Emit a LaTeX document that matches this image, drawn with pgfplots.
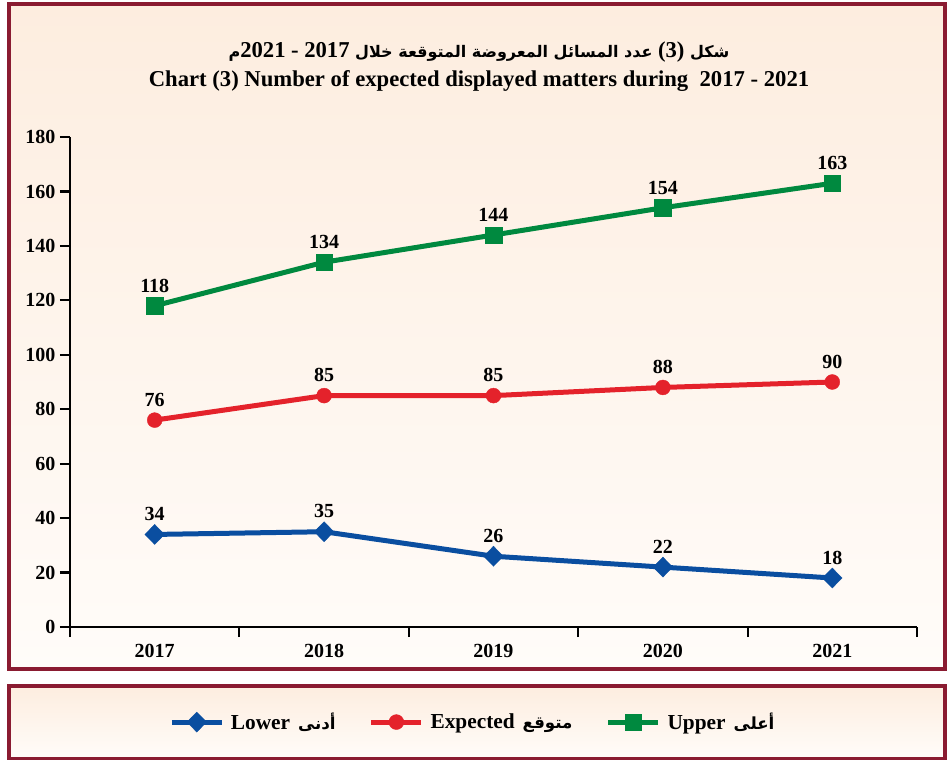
\documentclass[border=0pt]{standalone}
\usepackage{pgfplots}
\pgfplotsset{compat=1.18}
\usepackage{fontspec}
\setmainfont{Liberation Serif}
\newfontfamily\arabicfont[Script=Arabic]{DejaVu Sans}
\TeXXeTstate=1
\definecolor{cgreen}{HTML}{00893F}
\definecolor{cred}{HTML}{E4222B}
\definecolor{cblue}{HTML}{0A4EA0}
\definecolor{cframe}{HTML}{8A1B31}
\definecolor{cpeach}{HTML}{FDEDDF}
\definecolor{cpale}{HTML}{FFFCF9}
\newcommand{\lbl}{\bfseries\fontsize{15}{17}\selectfont}
\newcommand{\ttl}{\normalfont\bfseries\fontsize{17}{19}\selectfont}
\newcommand{\arl}{\arabicfont\bfseries\fontsize{12.5}{15}\selectfont}

\begin{document}
\begin{tikzpicture}
\begin{scope}[x=0.75pt,y=0.75pt]
\useasboundingbox (0,0) rectangle (947,-760);
% chart frame
\shade[top color=cpeach,bottom color=cpale] (9,-3.5) rectangle (944.5,-669);
\draw[cframe,line width=3pt] (9,-3.5) rectangle (944.5,-669);
% legend frame
\shade[top color=cpeach,bottom color=cpale] (9,-685.5) rectangle (944.5,-758.5);
\draw[cframe,line width=3pt] (9,-685.5) rectangle (944.5,-758.5);
% titles
\node[font=\arabicfont\bfseries\fontsize{12}{14}\selectfont] at (479,-52)
  {\beginR شكل \beginL{\ttl(3)}\endL{} عدد المسائل المعروضة المتوقعة خلال {\ttl 2017} {\ttl -} {\ttl 2021}م\endR};
\node[font=\ttl] at (479,-81) {Chart (3) Number of expected displayed matters during\ \ 2017 - 2021};
\end{scope}

\begin{axis}[
  at={(52.5pt,-470.25pt)}, anchor=south west,
  scale only axis, width=635.25pt, height=367.5pt,
  xmin=-0.5, xmax=4.5, ymin=0, ymax=180,
  axis lines=left,
  axis line style={-, line width=1.6pt, black},
  ytick={0,20,...,180},
  xtick={-0.5,0.5,...,4.5},
  xticklabels={2017,2018,2019,2020,2021},
  x tick label as interval,
  tick align=outside,
  major tick length=7.5pt,
  tick style={line width=1.6pt, black},
  /pgf/number format/assume math mode=true,
  /pgf/number format/1000 sep={},
  tick label style={font=\lbl},
  xticklabel style={yshift=-2pt},
  clip=false,
  nodes near coords,
  every node near coord/.style={font=\lbl, text=black, anchor=south, inner sep=0pt, yshift=10pt},
  legend image code/.code={
    \draw[mark repeat=2, mark phase=2, #1] plot coordinates {(0pt,0pt) (18.75pt,0pt) (37.5pt,0pt)};
  },
  legend style={at={(0.476,-0.194)}, anchor=center, draw=none, fill=none,
    legend columns=3, font=\fontsize{16}{18}\selectfont\bfseries,
    /tikz/every odd column/.append style={column sep=3pt},
    /tikz/every even column/.append style={column sep=23pt}},
]
\addplot[cblue, line width=3.75pt, mark=diamond*, mark size=7.5pt,
  mark options={line width=0.3pt, xscale=1.3}]
  coordinates {(0,34)(1,35)(2,26)(3,22)(4,18)};
\addlegendentry{Lower\hspace{6pt}{\arl\beginR أدنى\endR}}

\addplot[cred, line width=3.75pt, mark=*, mark size=5.6pt,
  mark options={line width=0.3pt}]
  coordinates {(0,76)(1,85)(2,85)(3,88)(4,90)};
\addlegendentry{Expected\hspace{6pt}{\arl\beginR متوقع\endR}}

\addplot[cgreen, line width=3.75pt, mark=square*, mark size=6.2pt,
  mark options={line width=0.3pt}]
  coordinates {(0,118)(1,134)(2,144)(3,154)(4,163)};
\addlegendentry{Upper\hspace{6pt}{\arl\beginR أعلى\endR}}
\end{axis}
\end{tikzpicture}
\end{document}
